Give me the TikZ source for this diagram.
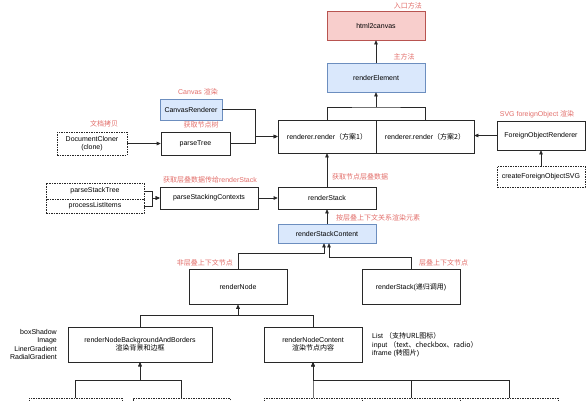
\documentclass[tikz,border=0pt]{standalone}
\usepackage{fontspec}
\setmainfont{Liberation Sans}
\newfontfamily\cjk{Noto Sans CJK SC}
\usetikzlibrary{arrows.meta, positioning, calc}
\definecolor{flowLine}{RGB}{40, 40, 40}
\definecolor{noteRed}{RGB}{226, 110, 106}
\definecolor{entryFill}{RGB}{248, 206, 204}
\definecolor{entryDraw}{RGB}{184, 84, 80}
\definecolor{mainFill}{RGB}{218, 232, 252}
\definecolor{mainDraw}{RGB}{108, 142, 191}
\tikzset{
  funcBox/.style={
    draw=flowLine,
    line width=0.7pt,
    fill=white,
    minimum width=98pt,
    minimum height=22pt,
    inner sep=1pt,
    align=center,
    font=\fontsize{7}{8.3}\selectfont
  },
  entryBox/.style={
    funcBox,
    draw=entryDraw,
    fill=entryFill
  },
  mainBox/.style={
    funcBox,
    draw=mainDraw,
    fill=mainFill
  },
  helperBox/.style={
    funcBox,
    dash pattern=on 1.5pt off 1pt
  },
  noteText/.style={
    font=\fontsize{7}{8.3}\selectfont,
    text=noteRed,
    inner sep=0pt
  },
  listText/.style={
    font=\fontsize{7}{8.3}\selectfont,
    inner sep=0pt
  },
  flow/.style={
    draw=flowLine,
    line width=0.7pt,
    -{Triangle[length=4pt,width=3.6pt]}
  },
  wire/.style={
    draw=flowLine,
    line width=0.7pt
  }
}

\begin{document}
\begin{tikzpicture}[x=1pt, y=-1pt]
  \useasboundingbox (0,0) rectangle (586,400);
  \clip (0,0) rectangle (586,400);

  % Entry and main method
  \node[entryBox, minimum height=29pt] (html) at (376,25.5) {html2canvas};
  \node[mainBox, minimum height=29pt] (elem) at (376,77.5) {renderElement};
  \node[noteText, anchor=east] at (422,6) {\cjk 入口方法};
  \node[noteText] at (404,57) {\cjk 主方法};

  % Render variants
  \node[funcBox, minimum height=33pt] (renderA) at (327,136.5) {renderer.render{\cjk （方案1）}};
  \node[funcBox, minimum height=33pt] (renderB) at (425,136.5) {renderer.render{\cjk （方案2）}};

  % Canvas side
  \node[mainBox, minimum width=62pt, minimum height=21pt] (canvasR) at (191,109.5) {CanvasRenderer};
  \node[funcBox, minimum width=69pt, minimum height=23pt] (parseTree) at (195.5,143.5) {parseTree};
  \node[helperBox, minimum width=70pt, minimum height=23pt] (docClone) at (92,143.5) {DocumentCloner\\(clone)};
  \node[noteText] at (198,92) {Canvas {\cjk 渲染}};
  \node[noteText] at (201,125) {\cjk 获取节点树};
  \node[noteText] at (104,124) {\cjk 文档拷贝};

  % SVG foreignObject side
  \node[funcBox, minimum width=88pt, minimum height=29pt] (foreignR) at (541,135.5) {ForeignObjectRenderer};
  \node[helperBox, minimum width=88pt, minimum height=21pt] (foreignSVG) at (541,176.5) {createForeignObjectSVG};
  \node[noteText] at (537,114) {SVG foreignObject {\cjk 渲染}};

  % Stacking contexts
  \node[funcBox] (renderStack) at (327,198) {renderStack};
  \node[funcBox] (parseSC) at (209,198) {parseStackingContexts};
  \node[helperBox, minimum height=16pt] (stackTree) at (95,191) {parseStackTree};
  \node[helperBox, minimum height=14pt] (listItems) at (95,206) {processListItems};
  \node[mainBox, minimum height=19pt] (stackContent) at (327,233.5) {renderStackContent};
  \node[noteText, anchor=west] at (332,177) {\cjk 获取节点层叠数据};
  \node[noteText] at (210,180) {{\cjk 获取层叠数据传给}renderStack};
  \node[noteText, anchor=west] at (336,218) {\cjk 按层叠上下文关系渲染元素};

  % Nodes
  \node[funcBox, minimum height=35pt] (renderNode) at (238,287) {renderNode};
  \node[funcBox, minimum height=35pt] (stackAgain) at (411,287) {renderStack({\cjk 递归调用})};
  \node[noteText, anchor=east] at (233,263) {\cjk 非层叠上下文节点};
  \node[noteText, anchor=west] at (419,263) {\cjk 层叠上下文节点};

  % Painting
  \node[funcBox, minimum width=144pt, minimum height=35pt] (bgBorders) at (140,344.5) {renderNodeBackgroundAndBorders\\{\cjk 渲染背景和边框}};
  \node[funcBox, minimum height=35pt] (nodeContent) at (313,344.5) {renderNodeContent\\{\cjk 渲染节点内容}};
  \node[listText, anchor=east, align=right] (bgList) at (57,344.5) {boxShadow\\Image\\LinerGradient\\RadialGradient};
  \node[listText, anchor=west, align=left] (contentList) at (372,345) {List {\cjk （支持URL图标）}\\input {\cjk （text、checkbox、radio）}\\iframe ({\cjk 转图片})};

  % Leaves cut by the lower edge
  \node[helperBox, minimum width=93pt, minimum height=30pt, anchor=north] (leafA) at (75.5,398) {};
  \node[helperBox, minimum width=97pt, minimum height=30pt, anchor=north] (leafB) at (181.5,398) {};
  \node[helperBox, minimum height=30pt, anchor=north] (leafC) at (313,398) {};
  \node[helperBox, minimum height=30pt, anchor=north] (leafD) at (411,398) {};
  \node[helperBox, minimum height=30pt, anchor=north] (leafE) at (509,398) {};

  % Connectors
  \draw[flow] (elem) -- (html);
  \coordinate (renderFork) at (376,107);
  \draw[wire] (renderA.north) |- (renderFork) -| (renderB.north);
  \draw[flow] (renderFork) -- (elem.south);
  \draw[flow] (canvasR.east) -- ++(33,0) |- (renderA.west);
  \draw[flow] (parseTree.east) -- ++(25,0) |- (renderA.west);
  \draw[flow] (docClone) -- (parseTree);
  \draw[flow] (foreignR.west) -- (foreignR.west -| renderB.east);
  \draw[flow] (foreignSVG) -- (foreignR);
  \draw[flow] (renderStack) -- (renderA);
  \draw[flow] (parseSC) -- (renderStack);
  \draw[flow] (stackTree.east) -- ++(8,0) |- (parseSC.west);
  \draw[flow] (listItems.east) -- ++(8,0) |- (parseSC.west);
  \draw[flow] (stackContent) -- (renderStack);
  \draw[flow] (renderNode.north) -- ++(0,-16) -| ([xshift=-3pt]stackContent.south);
  \draw[flow] (stackAgain.north) -- ++(0,-12) -| ([xshift=2pt]stackContent.south);
  \draw[flow] (bgBorders.north) -- ++(0,-11) -| (renderNode.south);
  \draw[flow] (nodeContent.north) -- ++(0,-11) -| (renderNode.south);
  \draw[flow] (leafA.north) -- ++(0,-18) -| (bgBorders.south);
  \draw[flow] (leafB.north) -- ++(0,-18) -| (bgBorders.south);
  \draw[flow] (leafC.north) -- ++(0,-18) -| (nodeContent.south);
  \draw[flow] (leafD.north) -- ++(0,-18) -| (nodeContent.south);
  \draw[flow] (leafE.north) -- ++(0,-18) -| (nodeContent.south);
\end{tikzpicture}
\end{document}
